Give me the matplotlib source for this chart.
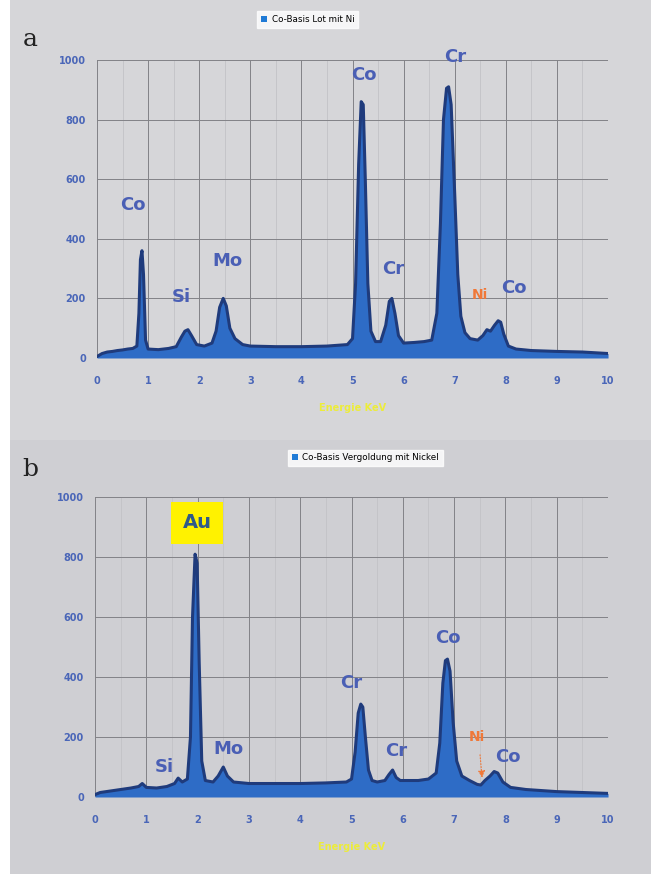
import matplotlib.pyplot as plt
from matplotlib.patches import Patch, Rectangle

# spectrum a: Co-Basis Lot mit Ni
energy_a = [0.0, 0.1, 0.2, 0.3, 0.4, 0.5, 0.6, 0.7, 0.78, 0.82, 0.85, 0.88, 0.91, 0.95,
            1.0, 1.2, 1.4, 1.55, 1.65, 1.72, 1.78, 1.85, 1.95, 2.1, 2.25, 2.33, 2.4, 2.47,
            2.53, 2.6, 2.7, 2.85, 3.0, 3.5, 4.0, 4.5, 4.9, 5.0, 5.06, 5.12, 5.17, 5.21,
            5.25, 5.3, 5.36, 5.45, 5.55, 5.65, 5.72, 5.77, 5.83, 5.9, 6.0, 6.2, 6.4, 6.55,
            6.65, 6.72, 6.78, 6.84, 6.88, 6.93, 7.0, 7.06, 7.12, 7.2, 7.3, 7.45, 7.55, 7.63,
            7.7, 7.78, 7.85, 7.9, 7.96, 8.05, 8.2, 8.5, 9.0, 9.5, 10.0]
counts_a = [5, 15, 20, 22, 25, 27, 30, 32, 40, 150, 330, 360, 280, 60,
            30, 28, 32, 38, 70, 90, 95, 75, 45, 40, 50, 90, 170, 200,
            175, 100, 65, 45, 40, 38, 38, 40, 45, 65, 250, 650, 860, 850,
            600, 250, 90, 55, 55, 110, 190, 200, 150, 75, 50, 52, 55, 60,
            150, 450, 800, 905, 910, 850, 550, 280, 140, 85, 65, 60, 75, 95,
            90, 110, 125, 120, 80, 40, 30, 25, 22, 20, 15]

# spectrum b: Co-Basis Vergoldung mit Nickel
energy_b = [0.0, 0.1, 0.3, 0.5, 0.7, 0.85, 0.92, 1.0, 1.2, 1.4, 1.55, 1.62, 1.7, 1.8,
            1.86, 1.9, 1.95, 1.99, 2.03, 2.08, 2.15, 2.3, 2.4, 2.5, 2.58, 2.7, 3.0, 3.5,
            4.0, 4.5, 4.9, 5.0, 5.07, 5.13, 5.18, 5.22, 5.27, 5.33, 5.4, 5.5, 5.65, 5.73,
            5.8, 5.87, 5.95, 6.1, 6.3, 6.5, 6.65, 6.72, 6.78, 6.83, 6.87, 6.92, 6.98, 7.05,
            7.15, 7.3, 7.45, 7.52, 7.6, 7.7, 7.78, 7.85, 7.95, 8.1, 8.4, 9.0, 9.5, 10.0]
counts_b = [8, 15, 20, 25, 30, 35, 45, 32, 30, 35, 45, 63, 50, 60,
            200, 600, 810, 780, 450, 120, 55, 50, 70, 100, 70, 50, 45, 45,
            45, 47, 50, 60, 150, 280, 310, 300, 200, 90, 55, 50, 55, 75,
            90, 65, 55, 55, 55, 60, 80, 180, 380, 455, 460, 420, 250, 120,
            70, 55, 42, 40, 55, 70, 85, 80, 50, 32, 25, 18, 15, 12]

x_ticks = [0, 1, 2, 3, 4, 5, 6, 7, 8, 9, 10]
y_ticks = [0, 200, 400, 600, 800, 1000]

fill_col = '#2e6cc6'
line_col = '#1f3b7c'
tick_col = '#4a66b8'
bg_col = '#d6d6d9'

fig = plt.figure(figsize=(6.51, 8.74), dpi=100)
fig.patch.set_facecolor(bg_col)
# lower half slightly darker, white strip on the left
fig.add_artist(Rectangle((0, 0), 1, 0.497, transform=fig.transFigure,
                         facecolor='#cfcfd3', edgecolor='none', zorder=0))
fig.add_artist(Rectangle((0, 0), 0.015, 1, transform=fig.transFigure,
                         facecolor='white', edgecolor='none', zorder=0))


def draw_panel(rect, energy, counts, legend_text, legend_xy):
    ax = fig.add_axes(rect)
    ax.set_facecolor('none')
    ax.fill_between(energy, 0, counts, color=fill_col, lw=0, zorder=3)
    ax.plot(energy, counts, color=line_col, lw=2.2, zorder=4, solid_joinstyle='round')
    ax.set_xlim(0, 10)
    ax.set_ylim(0, 1000)
    ax.set_xticks(x_ticks)
    ax.set_yticks(y_ticks)
    ax.set_xticks([0.5 + i for i in range(10)], minor=True)
    ax.grid(True, which='major', color='#828287', lw=0.7, zorder=1)
    ax.grid(True, which='minor', axis='x', color='#c2c2c7', lw=0.6, zorder=1)
    for s in ax.spines.values():
        s.set_visible(False)
    ax.tick_params(axis='x', which='both', length=0, colors=tick_col, labelsize=7, pad=13)
    ax.tick_params(axis='y', which='both', length=0, colors=tick_col, labelsize=7, pad=8)
    for lab in ax.get_xticklabels() + ax.get_yticklabels():
        lab.set_fontweight('bold')
    ax.set_xlabel('Energie KeV', color='#ecec3a', fontsize=7, fontweight='bold', labelpad=12)
    leg = fig.legend(handles=[Patch(facecolor='#1f7ad6', edgecolor='none')],
                     labels=[legend_text], loc='center', bbox_to_anchor=legend_xy,
                     fontsize=6.3, frameon=True, fancybox=False, handlelength=0.7,
                     handleheight=0.7, handletextpad=0.5, borderpad=0.45)
    leg.get_frame().set_edgecolor('white')
    leg.get_frame().set_facecolor('white')
    return ax


ax_a = draw_panel([0.149, 0.5904, 0.785, 0.341], energy_a, counts_a,
                  'Co-Basis Lot mit Ni', (0.473, 0.978))
ax_b = draw_panel([0.146, 0.0881, 0.788, 0.343], energy_b, counts_b,
                  'Co-Basis Vergoldung mit Nickel', (0.561, 0.476))

lbl = dict(color='#4a5fb5', fontsize=13, fontweight='bold', ha='center', va='center',
           zorder=6, clip_on=False)
ni = dict(color='#f07838', fontsize=10, fontweight='bold', ha='center', va='center', zorder=6)

ax_a.text(0.7, 513, 'Co', **lbl)
ax_a.text(1.65, 205, 'Si', **lbl)
ax_a.text(2.56, 325, 'Mo', **lbl)
ax_a.text(5.22, 948, 'Co', **lbl)
ax_a.text(7.0, 1010, 'Cr', **lbl)
ax_a.text(5.8, 300, 'Cr', **lbl)
ax_a.text(7.5, 210, 'Ni', **ni)
ax_a.text(8.15, 235, 'Co', **lbl)

ax_b.text(1.99, 915, 'Au', color='#2f5a8a', fontsize=14, fontweight='bold', ha='center',
          va='center', zorder=6,
          bbox=dict(boxstyle='square,pad=0.6', facecolor='#fff200', edgecolor='none'))
ax_b.text(1.35, 100, 'Si', **lbl)
ax_b.text(2.6, 160, 'Mo', **lbl)
ax_b.text(5.0, 380, 'Cr', **lbl)
ax_b.text(5.88, 155, 'Cr', **lbl)
ax_b.text(6.88, 530, 'Co', **lbl)
ax_b.text(7.45, 200, 'Ni', **ni)
ax_b.text(8.05, 133, 'Co', **lbl)
ax_b.annotate('', xy=(7.55, 55), xytext=(7.5, 150),
              arrowprops=dict(arrowstyle='-|>', color='#f07838', lw=0.8, ls=':'), zorder=6)

fig.text(0.035, 0.955, 'a', fontsize=18, family='DejaVu Serif', color='#222222',
         ha='left', va='center')
fig.text(0.035, 0.463, 'b', fontsize=18, family='DejaVu Serif', color='#222222',
         ha='left', va='center')

fig.savefig('out.png', dpi=100, facecolor=fig.get_facecolor())
